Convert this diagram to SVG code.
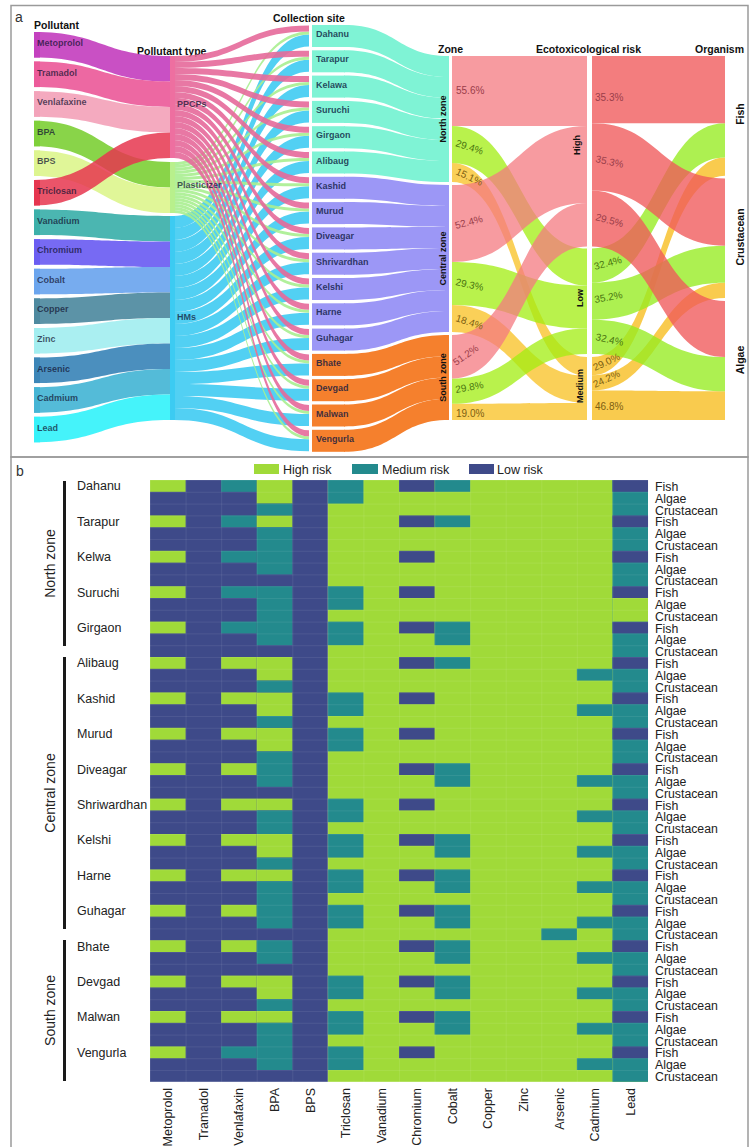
<svg xmlns="http://www.w3.org/2000/svg" xmlns:xlink="http://www.w3.org/1999/xlink" width="750" height="1147" viewBox="0 0 750 1147">
<style>
text{font-family:"Liberation Sans",Arial,sans-serif}
.h{font-weight:bold;font-size:10.5px;fill:#111}
.pl{font-weight:bold;font-size:9px;fill:#101030;fill-opacity:.72}
.sl{font-weight:bold;font-size:9px;fill:#0c1640;fill-opacity:.8}
.zl{font-weight:bold;font-size:9px;fill:#111;text-anchor:middle}
.pc{font-size:10px}
.pk{fill:#9a3d4a}.gr{fill:#4a7510}.ye{fill:#7d5f12}
.ax{font-size:12.5px;fill:#222}
.org{font-size:12.3px;fill:#222}
.lP{fill:#E5699A;fill-opacity:.9}.lG{fill:#A8EE90;fill-opacity:.9}.lC{fill:#3FCBF2;fill-opacity:.9}
.zH{fill:#F47A80;fill-opacity:.75}.zL{fill:#A2EE10;fill-opacity:.75}.zM{fill:#F8C020;fill-opacity:.75}
.oH{fill:#F0585A;fill-opacity:.78}.oL{fill:#96EC20;fill-opacity:.78}.oM{fill:#F8BE22;fill-opacity:.8}
.N{fill:#7FF3D5}.C{fill:#9C97F6}.S{fill:#F5802D}
.hi{fill:#A0DA39}.me{fill:#238A8D}.lo{fill:#3E4A89}
</style>
<defs>
<g id="fishcol">
<rect x="0" y="480" width="35.6" height="11.8"/><rect x="0" y="515.4" width="35.6" height="11.8"/><rect x="0" y="550.8" width="35.6" height="11.8"/><rect x="0" y="586.2" width="35.6" height="11.8"/><rect x="0" y="621.6" width="35.6" height="11.8"/><rect x="0" y="657" width="35.6" height="11.8"/><rect x="0" y="692.4" width="35.6" height="11.8"/><rect x="0" y="727.8" width="35.6" height="11.8"/><rect x="0" y="763.2" width="35.6" height="11.8"/><rect x="0" y="798.6" width="35.6" height="11.8"/><rect x="0" y="834" width="35.6" height="11.8"/><rect x="0" y="869.4" width="35.6" height="11.8"/><rect x="0" y="904.8" width="35.6" height="11.8"/><rect x="0" y="940.2" width="35.6" height="11.8"/><rect x="0" y="975.6" width="35.6" height="11.8"/><rect x="0" y="1011" width="35.6" height="11.8"/><rect x="0" y="1046.4" width="35.6" height="11.8"/>
</g>
<pattern id="grid" x="150" y="480" width="35.57" height="11.8" patternUnits="userSpaceOnUse"><path d="M0,0.3H35.57M0.3,0V11.8" stroke="#fff" stroke-opacity=".13" stroke-width="0.7" fill="none"/></pattern>
</defs>
<rect width="750" height="1147" fill="#fff"/>
<rect x="11" y="5.5" width="737" height="451.5" fill="none" stroke="#9a9a9a" stroke-width="1.5"/>
<rect x="11" y="457" width="737" height="700" fill="none" stroke="#9a9a9a" stroke-width="1.5"/>
<text x="15" y="22" font-size="14" fill="#333">a</text>
<text x="16" y="476" font-size="14" fill="#333">b</text>

<g id="headers">
<text class="h" x="34" y="29">Pollutant</text>
<text class="h" x="137" y="55">Pollutant type</text>
<text class="h" x="273" y="22">Collection site</text>
<text class="h" x="438" y="53">Zone</text>
<text class="h" x="536" y="53">Ecotoxicological risk</text>
<text class="h" x="695" y="53">Organism</text>
</g>

<g id="connectors">
<g id="pollutant-links" fill-opacity=".92">
<path fill="#C441BF" d="M34,32C102,32 102,56 170,56L170,81.5C102,81.5 102,57.5 34,57.5Z"/>
<path fill="#EC5B9A" d="M34,61.6C102,61.6 102,81.5 170,81.5L170,107C102,107 102,87.1 34,87.1Z"/>
<path fill="#F3A3BA" d="M34,91.2C102,91.2 102,107 170,107L170,132.5C102,132.5 102,116.7 34,116.7Z"/>
<path fill="#7FD03A" d="M34,120.8C102,120.8 102,162 170,162L170,187.5C102,187.5 102,146.3 34,146.3Z"/>
<path fill="#DDF58F" d="M34,150.4C102,150.4 102,187.5 170,187.5L170,213C102,213 102,175.9 34,175.9Z"/>
<path fill="#E6364F" fill-opacity=".85" d="M34,180C102,180 102,132.5 170,132.5L170,158C102,158 102,205.5 34,205.5Z"/>
<path fill="#3CB0AA" d="M34,209.6C102,209.6 102,216 170,216L170,241.5C102,241.5 102,235.1 34,235.1Z"/>
<path fill="#6B5DF2" d="M34,239.2C102,239.2 102,241.5 170,241.5L170,267C102,267 102,264.7 34,264.7Z"/>
<path fill="#6BA5EE" d="M34,268.8C102,268.8 102,267 170,267L170,292.5C102,292.5 102,294.3 34,294.3Z"/>
<path fill="#4E8AA0" d="M34,298.4C102,298.4 102,292.5 170,292.5L170,318C102,318 102,323.9 34,323.9Z"/>
<path fill="#A3EEF0" d="M34,328C102,328 102,318 170,318L170,343.5C102,343.5 102,353.5 34,353.5Z"/>
<path fill="#3C86B8" d="M34,357.6C102,357.6 102,343.5 170,343.5L170,369C102,369 102,383.1 34,383.1Z"/>
<path fill="#45B5D5" d="M34,387.2C102,387.2 102,369 170,369L170,394.5C102,394.5 102,412.7 34,412.7Z"/>
<path fill="#35F2FA" d="M34,416.8C102,416.8 102,394.5 170,394.5L170,420C102,420 102,442.3 34,442.3Z"/>
</g>
<g id="type-links">
<path class="lC" d="M174,216C241.5,216 241.5,34.5 309,34.5V46.5C241.5,46.5 241.5,228 174,228Z"/>
<path class="lC" d="M174,228C241.5,228 241.5,59.8 309,59.8V71.8C241.5,71.8 241.5,240 174,240Z"/>
<path class="lC" d="M174,240C241.5,240 241.5,85.1 309,85.1V97.1C241.5,97.1 241.5,252 174,252Z"/>
<path class="lC" d="M174,252C241.5,252 241.5,110.4 309,110.4V122.4C241.5,122.4 241.5,264 174,264Z"/>
<path class="lC" d="M174,264C241.5,264 241.5,135.7 309,135.7V147.7C241.5,147.7 241.5,276 174,276Z"/>
<path class="lC" d="M174,276C241.5,276 241.5,161 309,161V173C241.5,173 241.5,288 174,288Z"/>
<path class="lC" d="M174,288C241.5,288 241.5,186.3 309,186.3V198.3C241.5,198.3 241.5,300 174,300Z"/>
<path class="lC" d="M174,300C241.5,300 241.5,211.6 309,211.6V223.6C241.5,223.6 241.5,312 174,312Z"/>
<path class="lC" d="M174,312C241.5,312 241.5,236.9 309,236.9V248.9C241.5,248.9 241.5,324 174,324Z"/>
<path class="lC" d="M174,324C241.5,324 241.5,262.2 309,262.2V274.2C241.5,274.2 241.5,336 174,336Z"/>
<path class="lC" d="M174,336C241.5,336 241.5,287.5 309,287.5V299.5C241.5,299.5 241.5,348 174,348Z"/>
<path class="lC" d="M174,348C241.5,348 241.5,312.8 309,312.8V324.8C241.5,324.8 241.5,360 174,360Z"/>
<path class="lC" d="M174,360C241.5,360 241.5,338.1 309,338.1V350.1C241.5,350.1 241.5,372 174,372Z"/>
<path class="lC" d="M174,372C241.5,372 241.5,363.4 309,363.4V375.4C241.5,375.4 241.5,384 174,384Z"/>
<path class="lC" d="M174,384C241.5,384 241.5,388.7 309,388.7V400.7C241.5,400.7 241.5,396 174,396Z"/>
<path class="lC" d="M174,396C241.5,396 241.5,414 309,414V426C241.5,426 241.5,408 174,408Z"/>
<path class="lC" d="M174,408C241.5,408 241.5,439.3 309,439.3V451.3C241.5,451.3 241.5,420 174,420Z"/>
<path class="lG" d="M174,162C241.5,162 241.5,31.5 309,31.5V34.5C241.5,34.5 241.5,165 174,165Z"/>
<path class="lG" d="M174,165C241.5,165 241.5,56.8 309,56.8V59.8C241.5,59.8 241.5,168 174,168Z"/>
<path class="lG" d="M174,168C241.5,168 241.5,82.1 309,82.1V85.1C241.5,85.1 241.5,171 174,171Z"/>
<path class="lG" d="M174,171C241.5,171 241.5,107.4 309,107.4V110.4C241.5,110.4 241.5,174 174,174Z"/>
<path class="lG" d="M174,174C241.5,174 241.5,132.7 309,132.7V135.7C241.5,135.7 241.5,177 174,177Z"/>
<path class="lG" d="M174,177C241.5,177 241.5,158 309,158V161C241.5,161 241.5,180 174,180Z"/>
<path class="lG" d="M174,180C241.5,180 241.5,183.3 309,183.3V186.3C241.5,186.3 241.5,183 174,183Z"/>
<path class="lG" d="M174,183C241.5,183 241.5,208.6 309,208.6V211.6C241.5,211.6 241.5,186 174,186Z"/>
<path class="lG" d="M174,186C241.5,186 241.5,233.9 309,233.9V236.9C241.5,236.9 241.5,189 174,189Z"/>
<path class="lG" d="M174,189C241.5,189 241.5,259.2 309,259.2V262.2C241.5,262.2 241.5,192 174,192Z"/>
<path class="lG" d="M174,192C241.5,192 241.5,284.5 309,284.5V287.5C241.5,287.5 241.5,195 174,195Z"/>
<path class="lG" d="M174,195C241.5,195 241.5,309.8 309,309.8V312.8C241.5,312.8 241.5,198 174,198Z"/>
<path class="lG" d="M174,198C241.5,198 241.5,335.1 309,335.1V338.1C241.5,338.1 241.5,201 174,201Z"/>
<path class="lG" d="M174,201C241.5,201 241.5,360.4 309,360.4V363.4C241.5,363.4 241.5,204 174,204Z"/>
<path class="lG" d="M174,204C241.5,204 241.5,385.7 309,385.7V388.7C241.5,388.7 241.5,207 174,207Z"/>
<path class="lG" d="M174,207C241.5,207 241.5,411 309,411V414C241.5,414 241.5,210 174,210Z"/>
<path class="lG" d="M174,210C241.5,210 241.5,436.3 309,436.3V439.3C241.5,439.3 241.5,213 174,213Z"/>
<path class="lP" d="M174,56C241.5,56 241.5,25.5 309,25.5V31.5C241.5,31.5 241.5,62 174,62Z"/>
<path class="lP" d="M174,62C241.5,62 241.5,50.8 309,50.8V56.8C241.5,56.8 241.5,68 174,68Z"/>
<path class="lP" d="M174,68C241.5,68 241.5,76.1 309,76.1V82.1C241.5,82.1 241.5,74 174,74Z"/>
<path class="lP" d="M174,74C241.5,74 241.5,101.4 309,101.4V107.4C241.5,107.4 241.5,80 174,80Z"/>
<path class="lP" d="M174,80C241.5,80 241.5,126.7 309,126.7V132.7C241.5,132.7 241.5,86 174,86Z"/>
<path class="lP" d="M174,86C241.5,86 241.5,152 309,152V158C241.5,158 241.5,92 174,92Z"/>
<path class="lP" d="M174,92C241.5,92 241.5,177.3 309,177.3V183.3C241.5,183.3 241.5,98 174,98Z"/>
<path class="lP" d="M174,98C241.5,98 241.5,202.6 309,202.6V208.6C241.5,208.6 241.5,104 174,104Z"/>
<path class="lP" d="M174,104C241.5,104 241.5,227.9 309,227.9V233.9C241.5,233.9 241.5,110 174,110Z"/>
<path class="lP" d="M174,110C241.5,110 241.5,253.2 309,253.2V259.2C241.5,259.2 241.5,116 174,116Z"/>
<path class="lP" d="M174,116C241.5,116 241.5,278.5 309,278.5V284.5C241.5,284.5 241.5,122 174,122Z"/>
<path class="lP" d="M174,122C241.5,122 241.5,303.8 309,303.8V309.8C241.5,309.8 241.5,128 174,128Z"/>
<path class="lP" d="M174,128C241.5,128 241.5,329.1 309,329.1V335.1C241.5,335.1 241.5,134 174,134Z"/>
<path class="lP" d="M174,134C241.5,134 241.5,354.4 309,354.4V360.4C241.5,360.4 241.5,140 174,140Z"/>
<path class="lP" d="M174,140C241.5,140 241.5,379.7 309,379.7V385.7C241.5,385.7 241.5,146 174,146Z"/>
<path class="lP" d="M174,146C241.5,146 241.5,405 309,405V411C241.5,411 241.5,152 174,152Z"/>
<path class="lP" d="M174,152C241.5,152 241.5,430.3 309,430.3V436.3C241.5,436.3 241.5,158 174,158Z"/>
</g>
<g id="site-links">
<path class="N" d="M344,25C397,25 397,56 449,56V77C397,77 397,47 344,47Z"/>
<path class="N" d="M344,50.3C397,50.3 397,77 449,77V98C397,98 397,72.3 344,72.3Z"/>
<path class="N" d="M344,75.6C397,75.6 397,98 449,98V119C397,119 397,97.6 344,97.6Z"/>
<path class="N" d="M344,100.9C397,100.9 397,119 449,119V140C397,140 397,122.9 344,122.9Z"/>
<path class="N" d="M344,126.2C397,126.2 397,140 449,140V161C397,161 397,148.2 344,148.2Z"/>
<path class="N" d="M344,151.5C397,151.5 397,161 449,161V182C397,182 397,173.5 344,173.5Z"/>
<path class="C" d="M344,176.8C397,176.8 397,185 449,185V206C397,206 397,198.8 344,198.8Z"/>
<path class="C" d="M344,202.1C397,202.1 397,206 449,206V227C397,227 397,224.1 344,224.1Z"/>
<path class="C" d="M344,227.4C397,227.4 397,227 449,227V248C397,248 397,249.4 344,249.4Z"/>
<path class="C" d="M344,252.7C397,252.7 397,248 449,248V269C397,269 397,274.7 344,274.7Z"/>
<path class="C" d="M344,278C397,278 397,269 449,269V290C397,290 397,300 344,300Z"/>
<path class="C" d="M344,303.3C397,303.3 397,290 449,290V311C397,311 397,325.3 344,325.3Z"/>
<path class="C" d="M344,328.6C397,328.6 397,311 449,311V332C397,332 397,350.6 344,350.6Z"/>
<path class="S" d="M344,353.9C397,353.9 397,335 449,335V356.3C397,356.3 397,375.9 344,375.9Z"/>
<path class="S" d="M344,379.2C397,379.2 397,356.3 449,356.3V377.5C397,377.5 397,401.2 344,401.2Z"/>
<path class="S" d="M344,404.5C397,404.5 397,377.5 449,377.5V398.8C397,398.8 397,426.5 344,426.5Z"/>
<path class="S" d="M344,429.8C397,429.8 397,398.8 449,398.8V420C397,420 397,451.8 344,451.8Z"/>
</g>
<g id="zone-links">
<path class="zM" d="M452,163.1C519.5,163.1 519.5,357 587,357V376C519.5,376 519.5,182.1 452,182.1Z"/>
<path class="zM" d="M452,305.1C519.5,305.1 519.5,376 587,376V403C519.5,403 519.5,332 452,332Z"/>
<path class="zM" d="M452,403.8C519.5,403.8 519.5,403 587,403V420C519.5,420 519.5,420 452,420Z"/>
<path class="zL" d="M452,126.1C519.5,126.1 519.5,248.5 587,248.5V285.5C519.5,285.5 519.5,163.1 452,163.1Z"/>
<path class="zL" d="M452,262C519.5,262 519.5,285.5 587,285.5V328.6C519.5,328.6 519.5,305.1 452,305.1Z"/>
<path class="zL" d="M452,378.5C519.5,378.5 519.5,328.6 587,328.6V353.9C519.5,353.9 519.5,403.8 452,403.8Z"/>
<path class="zH" d="M452,56H587V126.1H452Z"/>
<path class="zH" d="M452,185C519.5,185 519.5,126.1 587,126.1V203.1C519.5,203.1 519.5,262 452,262Z"/>
<path class="zH" d="M452,335C519.5,335 519.5,203.1 587,203.1V246.6C519.5,246.6 519.5,378.5 452,378.5Z"/>
</g>
<g id="risk-links">
<path class="oM" d="M592,357C658.5,357 658.5,157.4 725,157.4V175.7C658.5,175.7 658.5,375.3 592,375.3Z"/>
<path class="oM" d="M592,375.3C658.5,375.3 658.5,282.8 725,282.8V298C658.5,298 658.5,390.5 592,390.5Z"/>
<path class="oM" d="M592,390.5C658.5,390.5 658.5,391.3 725,391.3V420C658.5,420 658.5,420 592,420Z"/>
<path class="oL" d="M592,248.5C658.5,248.5 658.5,123.3 725,123.3V157.4C658.5,157.4 658.5,282.6 592,282.6Z"/>
<path class="oL" d="M592,282.6C658.5,282.6 658.5,245.7 725,245.7V282.8C658.5,282.8 658.5,319.7 592,319.7Z"/>
<path class="oL" d="M592,319.7C658.5,319.7 658.5,357.1 725,357.1V391.3C658.5,391.3 658.5,353.9 592,353.9Z"/>
<path class="oH" d="M592,56H725V123.3H592Z"/>
<path class="oH" d="M592,123.3C658.5,123.3 658.5,178.4 725,178.4V245.7C658.5,245.7 658.5,190.6 592,190.6Z"/>
<path class="oH" d="M592,190.6C658.5,190.6 658.5,300.9 725,300.9V357.1C658.5,357.1 658.5,246.6 592,246.6Z"/>
</g>
</g>

<g id="pollutant-nodes">
<g id="n-metoprolol"><rect x="34" y="32" width="6" height="25.5" fill="#C441BF"/><text class="pl" x="37" y="46">Metoprolol</text></g>
<g id="n-tramadol"><rect x="34" y="61.6" width="6" height="25.5" fill="#EC5B9A"/><text class="pl" x="37" y="75.6">Tramadol</text></g>
<g id="n-venlafaxine"><rect x="34" y="91.2" width="6" height="25.5" fill="#F3A3BA"/><text class="pl" x="37" y="105.2">Venlafaxine</text></g>
<g id="n-bpa"><rect x="34" y="120.8" width="6" height="25.5" fill="#7FD03A"/><text class="pl" x="37" y="134.8">BPA</text></g>
<g id="n-bps"><rect x="34" y="150.4" width="6" height="25.5" fill="#DDF58F"/><text class="pl" x="37" y="164.4">BPS</text></g>
<g id="n-triclosan"><rect x="34" y="180" width="6" height="25.5" fill="#E6364F"/><text class="pl" x="37" y="194">Triclosan</text></g>
<g id="n-vanadium"><rect x="34" y="209.6" width="6" height="25.5" fill="#3CB0AA"/><text class="pl" x="37" y="223.6">Vanadium</text></g>
<g id="n-chromium"><rect x="34" y="239.2" width="6" height="25.5" fill="#6B5DF2"/><text class="pl" x="37" y="253.2">Chromium</text></g>
<g id="n-cobalt"><rect x="34" y="268.8" width="6" height="25.5" fill="#6BA5EE"/><text class="pl" x="37" y="282.8">Cobalt</text></g>
<g id="n-copper"><rect x="34" y="298.4" width="6" height="25.5" fill="#4E8AA0"/><text class="pl" x="37" y="312.4">Copper</text></g>
<g id="n-zinc"><rect x="34" y="328" width="6" height="25.5" fill="#A3EEF0"/><text class="pl" x="37" y="342">Zinc</text></g>
<g id="n-arsenic"><rect x="34" y="357.6" width="6" height="25.5" fill="#3C86B8"/><text class="pl" x="37" y="371.6">Arsenic</text></g>
<g id="n-cadmium"><rect x="34" y="387.2" width="6" height="25.5" fill="#45B5D5"/><text class="pl" x="37" y="401.2">Cadmium</text></g>
<g id="n-lead"><rect x="34" y="416.8" width="6" height="25.5" fill="#35F2FA"/><text class="pl" x="37" y="430.8">Lead</text></g>
</g>

<g id="type-nodes">
<g id="n-ppcps"><rect x="170" y="56" width="5" height="102" fill="#EE6FA0"/><text class="pl" x="177" y="107">PPCPs</text></g>
<g id="n-plasticizer"><rect x="170" y="162" width="5" height="51" fill="#B8F08C"/><text class="pl" x="177" y="188">Plasticizer</text></g>
<g id="n-hms"><rect x="170" y="216" width="5" height="204" fill="#3CCBF2"/><text class="pl" x="177" y="320">HMs</text></g>
</g>

<g id="site-nodes">
<g id="n-dahanu"><rect class="N" x="312" y="25" width="33" height="22"/><text class="sl" x="316" y="37">Dahanu</text></g>
<g id="n-tarapur"><rect class="N" x="312" y="50.3" width="33" height="22"/><text class="sl" x="316" y="62.3">Tarapur</text></g>
<g id="n-kelawa"><rect class="N" x="312" y="75.6" width="33" height="22"/><text class="sl" x="316" y="87.6">Kelawa</text></g>
<g id="n-suruchi"><rect class="N" x="312" y="100.9" width="33" height="22"/><text class="sl" x="316" y="112.9">Suruchi</text></g>
<g id="n-girgaon"><rect class="N" x="312" y="126.2" width="33" height="22"/><text class="sl" x="316" y="138.2">Girgaon</text></g>
<g id="n-alibaug"><rect class="N" x="312" y="151.5" width="33" height="22"/><text class="sl" x="316" y="163.5">Alibaug</text></g>
<g id="n-kashid"><rect class="C" x="312" y="176.8" width="33" height="22"/><text class="sl" x="316" y="188.8">Kashid</text></g>
<g id="n-murud"><rect class="C" x="312" y="202.1" width="33" height="22"/><text class="sl" x="316" y="214.1">Murud</text></g>
<g id="n-diveagar"><rect class="C" x="312" y="227.4" width="33" height="22"/><text class="sl" x="316" y="239.4">Diveagar</text></g>
<g id="n-shrivardhan"><rect class="C" x="312" y="252.7" width="33" height="22"/><text class="sl" x="316" y="264.7">Shrivardhan</text></g>
<g id="n-kelshi"><rect class="C" x="312" y="278" width="33" height="22"/><text class="sl" x="316" y="290">Kelshi</text></g>
<g id="n-harne"><rect class="C" x="312" y="303.3" width="33" height="22"/><text class="sl" x="316" y="315.3">Harne</text></g>
<g id="n-guhagar"><rect class="C" x="312" y="328.6" width="33" height="22"/><text class="sl" x="316" y="340.6">Guhagar</text></g>
<g id="n-bhate"><rect class="S" x="312" y="353.9" width="33" height="22"/><text class="sl" x="316" y="365.9">Bhate</text></g>
<g id="n-devgad"><rect class="S" x="312" y="379.2" width="33" height="22"/><text class="sl" x="316" y="391.2">Devgad</text></g>
<g id="n-malwan"><rect class="S" x="312" y="404.5" width="33" height="22"/><text class="sl" x="316" y="416.5">Malwan</text></g>
<g id="n-vengurla"><rect class="S" x="312" y="429.8" width="33" height="22"/><text class="sl" x="316" y="441.8">Vengurla</text></g>
</g>

<g id="zone-nodes">
<g id="n-north"><rect class="N" x="445" y="56" width="4" height="126"/><text class="zl" x="446" y="119" transform="rotate(-90 446 119)">North zone</text></g>
<g id="n-central"><rect class="C" x="445" y="185" width="4" height="147"/><text class="zl" x="446" y="258.5" transform="rotate(-90 446 258.5)">Central zone</text></g>
<g id="n-south"><rect class="S" x="445" y="335" width="4" height="85"/><text class="zl" x="446" y="377.5" transform="rotate(-90 446 377.5)">South zone</text></g>
</g>

<g id="risk-nodes">
<g id="n-high"><text class="zl" x="580" y="145" transform="rotate(-90 580 145)">High</text></g>
<g id="n-low"><text class="zl" x="583" y="298" transform="rotate(-90 583 298)">Low</text></g>
<g id="n-medium"><text class="zl" x="583" y="386" transform="rotate(-90 583 386)">Medium</text></g>
</g>

<g id="organism-nodes">
<g id="n-fish"><text class="zl" font-size="10.5" x="744" y="114" transform="rotate(-90 744 114)" style="font-size:10.5px">Fish</text></g>
<g id="n-crustacean"><text class="zl" x="744" y="237" transform="rotate(-90 744 237)" style="font-size:10.5px">Crustacean</text></g>
<g id="n-algae"><text class="zl" x="744" y="360" transform="rotate(-90 744 360)" style="font-size:10.5px">Algae</text></g>
</g>

<g id="percent-labels">
<text class="pc pk" x="456" y="94">55.6%</text>
<text class="pc gr" x="455" y="146" transform="rotate(18 455 146)">29.4%</text>
<text class="pc ye" x="455" y="174" transform="rotate(25 455 174)">15.1%</text>
<text class="pc pk" x="456" y="229" transform="rotate(-15 456 229)">52.4%</text>
<text class="pc gr" x="455" y="285" transform="rotate(12 455 285)">29.3%</text>
<text class="pc ye" x="455" y="321" transform="rotate(18 455 321)">18.4%</text>
<text class="pc pk" x="456" y="366" transform="rotate(-35 456 366)">51.2%</text>
<text class="pc gr" x="456" y="393" transform="rotate(-10 456 393)">29.8%</text>
<text class="pc ye" x="456" y="417">19.0%</text>
<text class="pc pk" x="595" y="101">35.3%</text>
<text class="pc pk" x="595" y="162" transform="rotate(12 595 162)">35.3%</text>
<text class="pc pk" x="595" y="220" transform="rotate(15 595 220)">29.5%</text>
<text class="pc gr" x="595" y="270" transform="rotate(-15 595 270)">32.4%</text>
<text class="pc gr" x="595" y="303" transform="rotate(-10 595 303)">35.2%</text>
<text class="pc gr" x="595" y="340" transform="rotate(12 595 340)">32.4%</text>
<text class="pc ye" x="595" y="371" transform="rotate(-25 595 371)">29.0%</text>
<text class="pc ye" x="595" y="388" transform="rotate(-25 595 388)">24.2%</text>
<text class="pc ye" x="595" y="410">46.8%</text>
</g>

<g id="legend">
<rect class="hi" x="254" y="464" width="25" height="10"/><text class="ax" x="283" y="474">High risk</text>
<rect class="me" x="352" y="464" width="26" height="10"/><text class="ax" x="382" y="474">Medium risk</text>
<rect class="lo" x="469" y="464" width="25" height="10"/><text class="ax" x="497" y="474">Low risk</text>
</g>

<g id="heatmap">
<rect class="lo" x="150" y="480" width="177.86" height="601.8"/>
<rect class="hi" x="327.86" y="480" width="320.14" height="601.8"/>
<use href="#fishcol" xlink:href="#fishcol" x="150" fill="#A0DA39"/>
<g class="me">
<rect x="221.14" y="480" width="35.6" height="11.8"/><rect x="221.14" y="515.4" width="35.6" height="11.8"/><rect x="221.14" y="550.8" width="35.6" height="11.8"/><rect x="221.14" y="586.2" width="35.6" height="11.8"/><rect x="221.14" y="621.6" width="35.6" height="11.8"/><rect x="221.14" y="1046.4" width="35.6" height="11.8"/>
</g>
<g class="hi">
<rect x="221.14" y="657" width="35.6" height="11.8"/><rect x="221.14" y="692.4" width="35.6" height="11.8"/><rect x="221.14" y="727.8" width="35.6" height="11.8"/><rect x="221.14" y="763.2" width="35.6" height="11.8"/><rect x="221.14" y="798.6" width="35.6" height="11.8"/><rect x="221.14" y="834" width="35.6" height="11.8"/><rect x="221.14" y="869.4" width="35.6" height="11.8"/><rect x="221.14" y="904.8" width="35.6" height="11.8"/><rect x="221.14" y="940.2" width="35.6" height="11.8"/><rect x="221.14" y="975.6" width="35.6" height="11.8"/><rect x="221.14" y="1011" width="35.6" height="11.8"/>
</g>
<g class="hi">
<rect x="256.71" y="480" width="35.6" height="23.6"/><rect x="256.71" y="515.4" width="35.6" height="11.8"/><rect x="256.71" y="657" width="35.6" height="23.6"/><rect x="256.71" y="692.4" width="35.6" height="23.6"/><rect x="256.71" y="727.8" width="35.6" height="23.6"/><rect x="256.71" y="798.6" width="35.6" height="11.8"/><rect x="256.71" y="834" width="35.6" height="23.6"/><rect x="256.71" y="869.4" width="35.6" height="11.8"/><rect x="256.71" y="975.6" width="35.6" height="23.6"/><rect x="256.71" y="1011" width="35.6" height="11.8"/>
</g>
<g class="me">
<rect x="256.71" y="503.6" width="35.6" height="11.8"/><rect x="256.71" y="527.2" width="35.6" height="47.2"/><rect x="256.71" y="586.2" width="35.6" height="59"/><rect x="256.71" y="680.6" width="35.6" height="11.8"/><rect x="256.71" y="716" width="35.6" height="11.8"/><rect x="256.71" y="751.4" width="35.6" height="35.4"/><rect x="256.71" y="810.4" width="35.6" height="23.6"/><rect x="256.71" y="857.6" width="35.6" height="11.8"/><rect x="256.71" y="881.2" width="35.6" height="47.2"/><rect x="256.71" y="940.2" width="35.6" height="23.6"/><rect x="256.71" y="999.2" width="35.6" height="11.8"/><rect x="256.71" y="1022.8" width="35.6" height="47.2"/>
</g>
<g class="me">
<rect x="327.86" y="480" width="35.6" height="23.6"/><rect x="327.86" y="586.2" width="35.6" height="23.6"/><rect x="327.86" y="621.6" width="35.6" height="23.6"/><rect x="327.86" y="692.4" width="35.6" height="23.6"/><rect x="327.86" y="727.8" width="35.6" height="23.6"/><rect x="327.86" y="798.6" width="35.6" height="23.6"/><rect x="327.86" y="834" width="35.6" height="23.6"/><rect x="327.86" y="869.4" width="35.6" height="23.6"/><rect x="327.86" y="904.8" width="35.6" height="23.6"/><rect x="327.86" y="975.6" width="35.6" height="23.6"/><rect x="327.86" y="1011" width="35.6" height="23.6"/><rect x="327.86" y="1046.4" width="35.6" height="23.6"/>
</g>
<use href="#fishcol" xlink:href="#fishcol" x="399" fill="#3E4A89"/>
<g class="me">
<rect x="434.57" y="480" width="35.6" height="11.8"/><rect x="434.57" y="515.4" width="35.6" height="11.8"/><rect x="434.57" y="621.6" width="35.6" height="23.6"/><rect x="434.57" y="657" width="35.6" height="11.8"/><rect x="434.57" y="763.2" width="35.6" height="23.6"/><rect x="434.57" y="834" width="35.6" height="23.6"/><rect x="434.57" y="869.4" width="35.6" height="23.6"/><rect x="434.57" y="904.8" width="35.6" height="23.6"/><rect x="434.57" y="940.2" width="35.6" height="23.6"/><rect x="434.57" y="975.6" width="35.6" height="23.6"/><rect x="434.57" y="1011" width="35.6" height="23.6"/>
<rect x="541.29" y="928.4" width="35.6" height="11.8"/>
<rect x="576.86" y="668.8" width="35.6" height="11.8"/><rect x="576.86" y="704.2" width="35.6" height="11.8"/><rect x="576.86" y="775" width="35.6" height="11.8"/><rect x="576.86" y="810.4" width="35.6" height="11.8"/><rect x="576.86" y="845.8" width="35.6" height="11.8"/><rect x="576.86" y="881.2" width="35.6" height="11.8"/><rect x="576.86" y="916.6" width="35.6" height="11.8"/><rect x="576.86" y="952" width="35.6" height="11.8"/><rect x="576.86" y="987.4" width="35.6" height="11.8"/><rect x="576.86" y="1022.8" width="35.6" height="11.8"/><rect x="576.86" y="1058.2" width="35.6" height="11.8"/>
<rect x="612.43" y="480" width="35.57" height="601.8"/>
</g>
<use href="#fishcol" xlink:href="#fishcol" x="612.43" fill="#3E4A89"/>
<rect class="hi" x="612.43" y="598" width="35.57" height="23.6"/>
<rect x="150" y="480" width="498" height="601.8" fill="url(#grid)"/>
</g>

<g id="heatmap-sites" class="ax">
<text x="77" y="490.4">Dahanu</text>
<text x="77" y="525.8">Tarapur</text>
<text x="77" y="561.2">Kelwa</text>
<text x="77" y="596.6">Suruchi</text>
<text x="77" y="632">Girgaon</text>
<text x="77" y="667.4">Alibaug</text>
<text x="77" y="702.8">Kashid</text>
<text x="77" y="738.2">Murud</text>
<text x="77" y="773.6">Diveagar</text>
<text x="77" y="809">Shriwardhan</text>
<text x="77" y="844.4">Kelshi</text>
<text x="77" y="879.8">Harne</text>
<text x="77" y="915.2">Guhagar</text>
<text x="77" y="950.6">Bhate</text>
<text x="77" y="986">Devgad</text>
<text x="77" y="1021.4">Malwan</text>
<text x="77" y="1056.8">Vengurla</text>
</g>

<g id="heatmap-zones">
<rect x="63" y="481" width="3" height="165" fill="#1a1a1a"/>
<rect x="63" y="657" width="3" height="272" fill="#1a1a1a"/>
<rect x="63" y="940" width="3" height="141" fill="#1a1a1a"/>
<text x="55" y="563.5" font-size="14" fill="#222" text-anchor="middle" transform="rotate(-90 55 563.5)">North zone</text>
<text x="55" y="793" font-size="14" fill="#222" text-anchor="middle" transform="rotate(-90 55 793)">Central zone</text>
<text x="55" y="1010.5" font-size="14" fill="#222" text-anchor="middle" transform="rotate(-90 55 1010.5)">South zone</text>
</g>

<g id="heatmap-organisms">
<text class="org" x="655" y="491"><tspan x="655">Fish</tspan><tspan x="655" dy="11.8">Algae</tspan><tspan x="655" dy="11.8">Crustacean</tspan><tspan x="655" dy="11.8">Fish</tspan><tspan x="655" dy="11.8">Algae</tspan><tspan x="655" dy="11.8">Crustacean</tspan><tspan x="655" dy="11.8">Fish</tspan><tspan x="655" dy="11.8">Algae</tspan><tspan x="655" dy="11.8">Crustacean</tspan><tspan x="655" dy="11.8">Fish</tspan><tspan x="655" dy="11.8">Algae</tspan><tspan x="655" dy="11.8">Crustacean</tspan><tspan x="655" dy="11.8">Fish</tspan><tspan x="655" dy="11.8">Algae</tspan><tspan x="655" dy="11.8">Crustacean</tspan><tspan x="655" dy="11.8">Fish</tspan><tspan x="655" dy="11.8">Algae</tspan><tspan x="655" dy="11.8">Crustacean</tspan><tspan x="655" dy="11.8">Fish</tspan><tspan x="655" dy="11.8">Algae</tspan><tspan x="655" dy="11.8">Crustacean</tspan><tspan x="655" dy="11.8">Fish</tspan><tspan x="655" dy="11.8">Algae</tspan><tspan x="655" dy="11.8">Crustacean</tspan><tspan x="655" dy="11.8">Fish</tspan><tspan x="655" dy="11.8">Algae</tspan><tspan x="655" dy="11.8">Crustacean</tspan><tspan x="655" dy="11.8">Fish</tspan><tspan x="655" dy="11.8">Algae</tspan><tspan x="655" dy="11.8">Crustacean</tspan><tspan x="655" dy="11.8">Fish</tspan><tspan x="655" dy="11.8">Algae</tspan><tspan x="655" dy="11.8">Crustacean</tspan><tspan x="655" dy="11.8">Fish</tspan><tspan x="655" dy="11.8">Algae</tspan><tspan x="655" dy="11.8">Crustacean</tspan><tspan x="655" dy="11.8">Fish</tspan><tspan x="655" dy="11.8">Algae</tspan><tspan x="655" dy="11.8">Crustacean</tspan><tspan x="655" dy="11.8">Fish</tspan><tspan x="655" dy="11.8">Algae</tspan><tspan x="655" dy="11.8">Crustacean</tspan><tspan x="655" dy="11.8">Fish</tspan><tspan x="655" dy="11.8">Algae</tspan><tspan x="655" dy="11.8">Crustacean</tspan><tspan x="655" dy="11.8">Fish</tspan><tspan x="655" dy="11.8">Algae</tspan><tspan x="655" dy="11.8">Crustacean</tspan><tspan x="655" dy="11.8">Fish</tspan><tspan x="655" dy="11.8">Algae</tspan><tspan x="655" dy="11.8">Crustacean</tspan></text>
</g>

<g id="heatmap-pollutants" class="ax" text-anchor="end">
<text x="172.3" y="1088" transform="rotate(-90 172.3 1088)">Metoprolol</text>
<text x="207.9" y="1088" transform="rotate(-90 207.9 1088)">Tramadol</text>
<text x="243.4" y="1088" transform="rotate(-90 243.4 1088)">Venlafaxin</text>
<text x="279" y="1088" transform="rotate(-90 279 1088)">BPA</text>
<text x="314.6" y="1088" transform="rotate(-90 314.6 1088)">BPS</text>
<text x="350.1" y="1088" transform="rotate(-90 350.1 1088)">Triclosan</text>
<text x="385.7" y="1088" transform="rotate(-90 385.7 1088)">Vanadium</text>
<text x="421.3" y="1088" transform="rotate(-90 421.3 1088)">Chromium</text>
<text x="456.9" y="1088" transform="rotate(-90 456.9 1088)">Cobalt</text>
<text x="492.4" y="1088" transform="rotate(-90 492.4 1088)">Copper</text>
<text x="528" y="1088" transform="rotate(-90 528 1088)">Zinc</text>
<text x="563.6" y="1088" transform="rotate(-90 563.6 1088)">Arsenic</text>
<text x="599.1" y="1088" transform="rotate(-90 599.1 1088)">Cadmium</text>
<text x="634.7" y="1088" transform="rotate(-90 634.7 1088)">Lead</text>
</g>
</svg>
